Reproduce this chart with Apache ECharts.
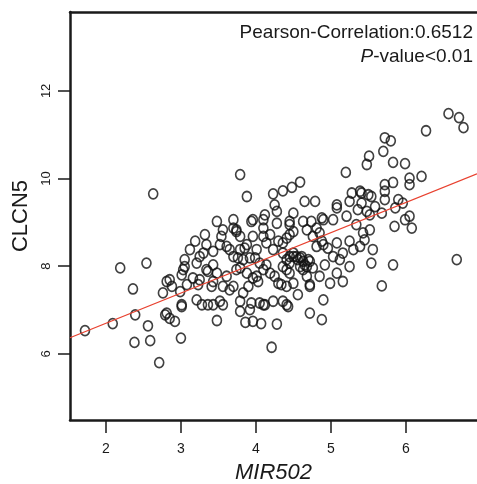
<!DOCTYPE html>
<html>
<head>
<meta charset="utf-8">
<script src="https://cdn.jsdelivr.net/npm/echarts@6/dist/echarts.min.js"></script>
<style>
  html, body { margin: 0; padding: 0; background: #fff; }
  #chart { width: 477px; height: 484px; }
</style>
</head>
<body>
<div id="chart"></div>
<script>
// expression values
const mir502 = [
  5.51, 5.70, 5.48, 5.83, 5.99, 6.21, 6.05, 6.05, 5.83, 5.72, 5.72, 5.72, 5.90, 5.96,
  5.20, 5.28, 5.39, 5.41, 5.25, 5.50, 5.54, 5.41, 5.59, 5.68, 5.48, 5.52, 6.05, 5.85,
  5.99, 6.08, 5.86, 3.79, 3.88, 2.63, 4.23, 4.36, 4.48, 4.59, 4.65, 4.79, 4.25, 4.28,
  4.50, 4.63, 4.74, 4.88, 4.90, 5.03, 5.08, 5.08, 5.21, 5.36, 5.34, 5.43, 5.45, 5.25,
  5.39, 5.52, 5.56, 5.30, 5.54, 5.83, 5.68, 6.68, 5.08, 4.96, 5.03, 5.16, 5.12, 5.25,
  5.16, 4.99, 5.08, 4.90, 4.76, 4.85, 4.81, 4.68, 4.50, 4.45, 4.41, 4.36, 4.30, 4.19,
  4.10, 4.14, 4.23, 4.45, 4.45, 4.28, 4.10, 4.10, 4.12, 3.96, 3.94, 3.96, 3.88, 3.85,
  3.79, 3.70, 3.74, 3.70, 3.56, 3.54, 3.48, 3.32, 3.19, 3.34, 3.30, 3.43, 3.25, 3.05,
  3.05, 3.03, 3.01, 3.16, 3.25, 3.23, 3.08, 2.99, 2.85, 2.81, 2.88, 2.76, 2.54, 2.19,
  2.36, 3.61, 3.65, 3.70, 3.76, 3.83, 3.92, 3.99, 3.79, 3.74, 3.88, 4.05, 4.14, 4.10,
  4.19, 4.25, 4.01, 4.03, 3.96, 3.90, 3.83, 3.70, 3.65, 3.56, 3.61, 3.48, 3.43, 3.41,
  3.34, 3.36, 4.36, 4.45, 4.50, 4.54, 4.41, 4.59, 4.63, 4.72, 4.68, 4.59, 4.76, 4.63,
  4.36, 4.41, 4.45, 4.30, 4.34, 4.41, 4.50, 4.68, 4.72, 4.72, 4.85, 4.92, 4.56, 4.36,
  4.41, 4.43, 4.23, 4.05, 4.10, 4.12, 3.94, 3.79, 3.92, 3.79, 3.52, 3.56, 3.43, 3.36,
  3.28, 3.21, 3.01, 3.01, 2.81, 2.79, 2.39, 4.90, 4.72,
  6.57, 6.71, 6.77, 6.27, 5.72, 5.80,
  1.72, 2.09, 2.56, 2.92, 2.85, 2.38, 2.59, 3.00, 2.71, 3.48, 3.86, 3.96, 4.07, 4.28,
  4.21, 4.88,
  4.50, 4.56, 4.61, 4.65, 4.70, 4.45, 3.74, 3.79, 3.12, 3.21, 3.52, 4.01, 3.43, 4.81,
  4.88
];
const clcn5 = [
  10.51, 10.62, 10.32, 10.37, 10.34, 10.05, 10.01, 9.86, 9.91, 9.86, 9.71, 9.52, 9.52, 9.44,
  10.14, 9.67, 9.71, 9.67, 9.48, 9.63, 9.59, 9.44, 9.36, 9.21, 9.25, 9.17, 9.14, 8.91,
  9.06, 8.87, 9.33, 10.09, 9.59, 9.65, 9.65, 9.72, 9.80, 9.92, 9.48, 9.48, 9.40, 9.25,
  9.21, 9.02, 9.02, 9.10, 9.06, 9.06, 9.40, 9.33, 9.14, 9.29, 8.95, 8.76, 8.60, 8.57,
  8.45, 8.83, 8.38, 8.38, 8.07, 8.03, 7.55, 8.15, 8.53, 8.41, 8.22, 8.30, 8.15, 7.99,
  7.65, 7.61, 7.84, 8.49, 8.68, 8.76, 8.87, 8.83, 8.79, 8.72, 8.64, 8.53, 8.57, 8.72,
  8.68, 8.53, 8.38, 9.02, 8.95, 8.98, 9.06, 8.87, 9.17, 9.06, 9.02, 8.68, 8.49, 8.41,
  8.38, 8.87, 8.79, 9.06, 8.83, 8.68, 9.02, 8.72, 8.57, 8.49, 8.30, 8.34, 8.22, 8.15,
  7.99, 7.92, 7.80, 7.73, 7.69, 7.58, 7.58, 7.42, 7.69, 7.65, 7.54, 7.39, 8.07, 7.96,
  7.48, 8.45, 8.38, 8.22, 8.19, 8.15, 8.19, 8.19, 7.96, 7.92, 7.84, 8.07, 8.03, 7.92,
  7.84, 7.77, 7.77, 7.65, 7.73, 7.54, 7.39, 7.54, 7.46, 7.54, 7.77, 7.84, 7.65, 7.54,
  7.92, 7.88, 8.30, 8.22, 8.22, 8.22, 8.15, 8.19, 8.11, 8.11, 7.99, 7.99, 7.96, 7.92,
  7.99, 7.92, 7.84, 7.61, 7.58, 7.54, 7.61, 7.77, 7.58, 7.54, 7.77, 8.03, 7.35, 7.20,
  7.12, 7.08, 7.20, 7.16, 7.12, 7.12, 7.16, 7.20, 7.01, 6.97, 7.20, 7.12, 7.12, 7.12,
  7.12, 7.23, 7.12, 7.08, 6.93, 6.89, 6.89, 7.23, 6.93,
  11.48, 11.39, 11.16, 11.09, 10.93, 10.86,
  6.53, 6.69, 6.64, 6.74, 6.81, 6.26, 6.30, 6.36, 5.80, 6.76, 6.72, 6.74, 6.69, 6.68,
  6.15, 6.78,
  8.30, 8.15, 8.22, 8.03, 8.15, 8.07, 8.83, 8.68, 8.38, 8.07, 8.49, 8.38, 8.03, 8.45,
  8.57
];

// fitted line: clcn5 = intercept + slope * mir502
const fitSlope = 0.689;
const fitIntercept = 5.32;

const xRange = [1.52, 6.95];
const yRange = [4.49, 13.8];
const xTicks = [2, 3, 4, 5, 6];
const yTicks = [6, 8, 10, 12];

const statLines = ['Pearson-Correlation:0.6512', '-value<0.01'];

const points = mir502.map((x, i) => [x, clcn5[i]]);
const fitLine = xRange.map((x) => [x, fitIntercept + fitSlope * x]);

const FONT = '"Liberation Sans", Arial, sans-serif';
const INK = '#1a1a1a';
const frame = { show: true, lineStyle: { color: INK, width: 2.5 } };

const chart = echarts.init(document.getElementById('chart'), null, { renderer: 'canvas' });

chart.setOption({
  animation: false,
  backgroundColor: '#fff',
  grid: { left: 70, top: 12, right: 0, bottom: 64, outerBoundsMode: 'none', containLabel: false },
  xAxis: [
    {
      type: 'value',
      min: xRange[0],
      max: xRange[1],
      name: 'MIR502',
      nameLocation: 'middle',
      nameGap: 42,
      nameTextStyle: { fontFamily: FONT, fontSize: 22, fontStyle: 'italic', color: INK },
      axisLine: frame,
      splitLine: { show: false },
      axisTick: { show: true, length: 13, customValues: xTicks, lineStyle: { color: INK, width: 1.5 } },
      axisLabel: { customValues: xTicks, margin: 22, fontFamily: FONT, fontSize: 14, color: INK },
    },
    {
      // top edge of the frame only
      type: 'value',
      position: 'top',
      min: xRange[0],
      max: xRange[1],
      axisLine: frame,
      axisTick: { show: false },
      axisLabel: { show: false },
      splitLine: { show: false },
    },
  ],
  yAxis: {
    type: 'value',
    min: yRange[0],
    max: yRange[1],
    name: 'CLCN5',
    nameLocation: 'middle',
    nameGap: 31,
    nameRotate: 90,
    nameTextStyle: { fontFamily: FONT, fontSize: 22, color: INK },
    axisLine: frame,
    splitLine: { show: false },
    axisTick: { show: true, length: 12, customValues: yTicks, lineStyle: { color: INK, width: 1.5 } },
    axisLabel: { customValues: yTicks, rotate: 90, margin: 17, fontFamily: FONT, fontSize: 13, color: INK },
  },
  graphic: [
    {
      type: 'text',
      right: 4,
      top: 23,
      z: 10,
      style: {
        text: statLines[0],
        font: '19px ' + FONT,
        fill: INK,
      },
    },
    {
      type: 'text',
      right: 4,
      top: 47,
      z: 10,
      style: {
        text: '{i|P}{n|' + statLines[1] + '}',
        fill: INK,
        rich: {
          i: { fontFamily: FONT, fontSize: 19, fontStyle: 'italic', fill: INK },
          n: { fontFamily: FONT, fontSize: 19, fill: INK },
        },
      },
    },
  ],
  series: [
    {
      type: 'scatter',
      data: points,
      symbol: 'circle',
      symbolSize: [9, 10],
      itemStyle: { color: 'rgba(0,0,0,0)', borderColor: '#111', borderWidth: 1.7 },
      z: 2,
    },
    {
      type: 'line',
      data: fitLine,
      symbol: 'none',
      lineStyle: { color: '#e8412f', width: 1.3 },
      z: 3,
    },
  ],
});
</script>
</body>
</html>
